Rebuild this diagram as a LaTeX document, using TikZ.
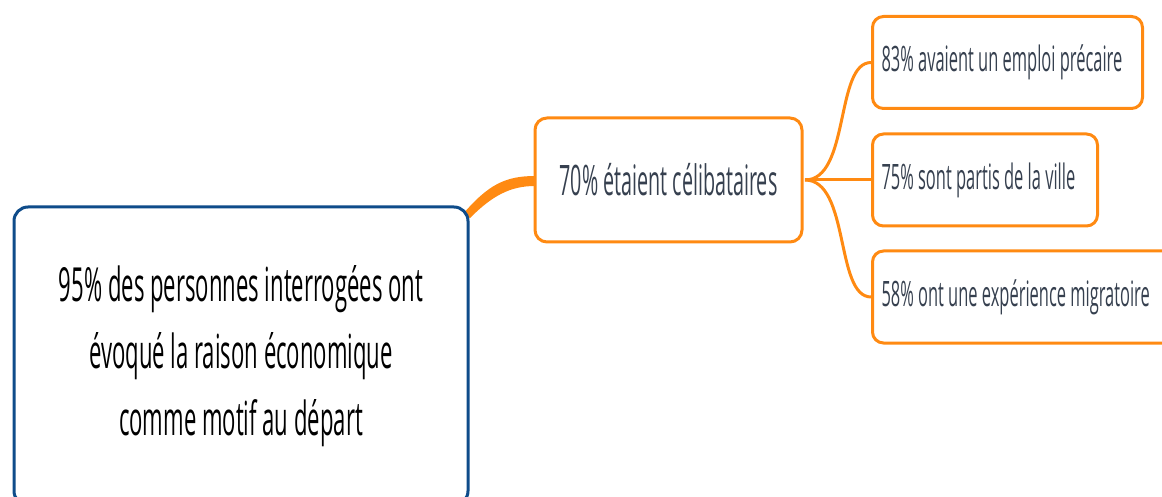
\documentclass[tikz,border=0pt]{standalone}
\usepackage{fontspec}
\newfontfamily\mapfont[FakeStretch=0.47]{Open Sans}
\definecolor{mapblue}{HTML}{0F4C8A}
\definecolor{maporange}{HTML}{FF8A12}
\definecolor{mapink}{HTML}{36404F}
\begin{document}
\begin{tikzpicture}[x=1pt,y=-1pt,
    rootbox/.style={draw=mapblue,line width=3,rounded corners=14,fill=white,
      minimum width=454,minimum height=298,align=center,text=black,
      font=\mapfont\fontsize{47}{67}\selectfont},
    midbox/.style={draw=maporange,line width=3,rounded corners=12,fill=white,
      minimum width=267,minimum height=124,text=mapink,
      font=\mapfont\fontsize{42}{50}\selectfont},
    leafbox/.style={draw=maporange,line width=3,rounded corners=11,fill=white,
      anchor=west,inner xsep=9,minimum height=92,align=flush left,text=mapink,
      font=\mapfont\fontsize{35}{40}\selectfont},
    branch/.style={draw=maporange,line width=3}]
  \useasboundingbox (0,0) rectangle (1162,497);

  % thick branch from the root to the middle box
  \fill[maporange] (463,214) .. controls (488,185) and (505,176) .. (535,176)
    -- (535,186) .. controls (510,186) and (492,196) .. (470,218) -- cycle;

  % root
  \node[rootbox] (root) at (241,356) {95\% des personnes interrogées ont\\
    évoqué la raison économique\\ comme motif au départ};

  % middle
  \node[midbox] (mid) at (668.5,180) {70\% étaient célibataires};
  \coordinate (fork) at (805,180);

  % leaves
  \node[leafbox,text width=252] (leafa) at (871,62.5) {\mbox{83\% avaient un emploi précaire}};
  \node[leafbox,text width=207] (leafb) at (871,180) {\mbox{75\% sont partis de la ville}};
  \node[leafbox,text width=284] (leafc) at (871,297) {\mbox{58\% ont une expérience migratoire}};

  % thin branches
  \draw[branch] (fork) .. controls (850,180) and (835,62.5) .. (leafa.west);
  \draw[branch] (fork) -- (leafb.west);
  \draw[branch] (fork) .. controls (850,180) and (835,297) .. (leafc.west);
\end{tikzpicture}
\end{document}
